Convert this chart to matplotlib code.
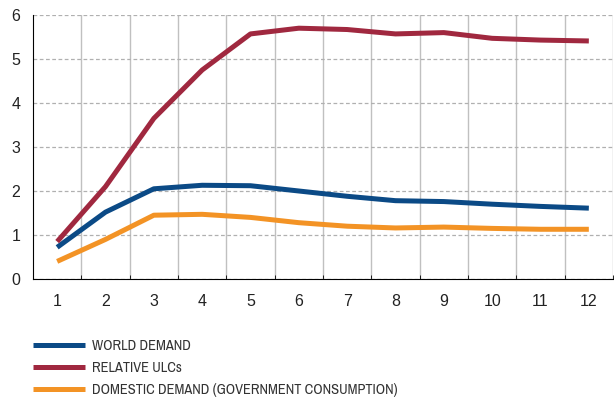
import matplotlib
matplotlib.use("Agg")
import matplotlib.pyplot as plt
from matplotlib.ticker import MultipleLocator, FixedLocator
import numpy as np

periods = [1, 2, 3, 4, 5, 6, 7, 8, 9, 10, 11, 12]
world_demand = [0.72, 1.52, 2.05, 2.13, 2.12, 2.00, 1.88, 1.78, 1.76, 1.70, 1.65, 1.61]
relative_ulcs = [0.85, 2.10, 3.65, 4.75, 5.57, 5.70, 5.67, 5.57, 5.60, 5.47, 5.43, 5.41]
domestic_demand = [0.40, 0.90, 1.45, 1.47, 1.40, 1.28, 1.20, 1.16, 1.18, 1.15, 1.13, 1.13]
labels = ["WORLD DEMAND", "RELATIVE ULCs", "DOMESTIC DEMAND (GOVERNMENT CONSUMPTION)"]
colors = ["#0b4a86", "#a0283f", "#f39325"]

plt.rcParams['font.family'] = ['Liberation Sans', 'DejaVu Sans']

fig = plt.figure(figsize=(6.14, 3.97), dpi=100)
ax = fig.add_axes([33/614, (397-279)/397, (613-33)/614, (279-15)/397])

x = np.arange(len(periods))
series = [world_demand, relative_ulcs, domestic_demand]
handles = []
for s, c, l in zip(series, colors, labels):
    h, = ax.plot(x, s, color=c, lw=3.6, label=l, solid_capstyle='butt', zorder=3)
    handles.append(h)

ax.set_xlim(-0.5, len(periods) - 0.5)
ax.set_ylim(0, 6)
ax.yaxis.set_major_locator(MultipleLocator(1))
ax.set_xticks(x)
ax.set_xticklabels([str(p) for p in periods])
ax.xaxis.set_minor_locator(FixedLocator(np.arange(0.5, len(periods) - 0.5 + 1, 1.0)))

ax.grid(axis='y', which='major', color='#b0b0b0', linestyle=(0, (3, 2)), lw=0.9)
ax.grid(axis='x', which='minor', color='#c0c0c0', linestyle='-', lw=1.0)
ax.set_axisbelow(True)

for sp in ['top', 'right']:
    ax.spines[sp].set_visible(False)
for sp in ['left', 'bottom']:
    ax.spines[sp].set_color('black')
    ax.spines[sp].set_linewidth(0.8)

ax.tick_params(axis='x', which='major', length=0, pad=11, labelsize=11.5, colors='#222222')
ax.tick_params(axis='x', which='minor', length=3, direction='in', color='black')
ax.tick_params(axis='y', which='major', length=0, pad=9, labelsize=11.5, colors='#222222')

fig.legend(handles=handles, labels=labels, loc='upper left',
           bbox_to_anchor=(33/614, 1 - 339/397), frameon=False,
           borderpad=0, borderaxespad=0,
           handlelength=3.6, handletextpad=0.48, labelspacing=0.55,
           prop={'family': ['Archivo Narrow', 'Liberation Sans'], 'size': 10.4},
           labelcolor='#333333')

fig.savefig("out.png", dpi=100)
